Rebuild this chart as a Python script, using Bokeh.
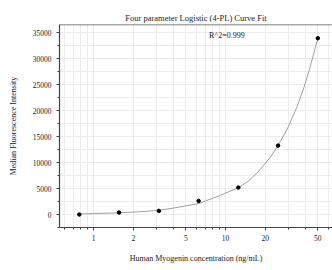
from bokeh.plotting import figure
from bokeh.models import (Range1d, FixedTicker, SingleIntervalTicker, Span,
                          Label)
from bokeh.embed import file_html
from bokeh.resources import INLINE

# measured standards
conc = [0.78, 1.56, 3.125, 6.25, 12.5, 25, 50]
mfi = [0, 380, 690, 2610, 5180, 13250, 33900]

# fitted 4-PL curve
curve_x = [0.78, 1.0, 1.56, 2.27, 3.125, 4.06, 6.25, 9.17, 12.5, 15, 17.4, 19.5, 21.9, 25,
           29.3, 32, 34.9, 37, 39.2, 43.5, 46.5, 50]
curve_y = [110, 170, 320, 540, 800, 1250, 2100, 3700, 5150, 6500, 8050, 9500, 11050, 13300,
           16400, 18600, 20800, 22600, 24400, 28150, 30900, 33900]

x_major = [1, 2, 5, 10, 20, 50]
x_minor = [0.6, 0.7, 0.8, 0.9, 3, 4, 6, 7, 8, 9, 30, 40, 60]

FONT = "Liberation Serif"
Y_MIN, Y_MAX = -2500, 36540

p = figure(width=332, height=270, x_axis_type="log",
           x_range=Range1d(0.552, 64.6), y_range=Range1d(Y_MIN, Y_MAX),
           output_backend="svg", toolbar_location=None,
           min_border_left=59, min_border_right=0, min_border_top=24,
           min_border_bottom=43)

p.title.text = "Four parameter Logistic (4-PL) Curve Fit"
p.title.align = "center"
p.title.text_font = FONT
p.title.text_font_size = "8.5px"
p.title.text_font_style = "normal"
p.title.text_color = "#222222"
p.title.standoff = 4

p.outline_line_color = None

p.line(curve_x, curve_y, line_color="#a0a0a0", line_width=1)
p.scatter(conc, mfi, size=3.5, color="black")

p.add_layout(Label(x=7.5, y=34400, text="R^2=0.999", text_font=FONT,
                   text_font_size="8px", text_baseline="middle", text_color="#222222"))

# top frame border
p.add_layout(Span(location=Y_MAX, dimension="width", line_color="#555555", line_width=1.5))

xa = p.xaxis[0]
xa.ticker = FixedTicker(ticks=x_major, minor_ticks=x_minor)
xa.major_label_overrides = {1: "1", 2: "2", 5: "5", 10: "10", 20: "20", 50: "50"}
ya = p.yaxis[0]
ya.ticker = SingleIntervalTicker(interval=5000, num_minor_ticks=2)

for ax in (xa, ya):
    ax.axis_line_color = "#444444"
    ax.axis_line_width = 1.2
    ax.major_tick_line_color = "#444444"
    ax.minor_tick_line_color = "#444444"
    ax.major_tick_in = 0
    ax.major_tick_out = 3
    ax.minor_tick_in = 0
    ax.minor_tick_out = 2
    ax.major_label_text_font = FONT
    ax.major_label_text_font_size = "7.5px"
    ax.major_label_text_color = "#222222"
    ax.axis_label_text_font = FONT
    ax.axis_label_text_font_size = "8px"
    ax.axis_label_text_font_style = "normal"
    ax.axis_label_text_color = "#222222"

xa.axis_label = "Human Myogenin concentration (ng/mL)"
xa.axis_label_standoff = 10
xa.major_label_standoff = 4
ya.axis_label = "Median Fluorescence Intensity"
ya.axis_label_standoff = 12
ya.major_label_standoff = 5

p.xgrid.grid_line_color = "#ececec"
p.xgrid.minor_grid_line_color = "#ececec"
p.ygrid.grid_line_color = "#ececec"
p.ygrid.minor_grid_line_color = "#ececec"
p.xgrid.ticker = xa.ticker
p.ygrid.ticker = ya.ticker

open("out.html", "w").write(file_html(p, INLINE))
